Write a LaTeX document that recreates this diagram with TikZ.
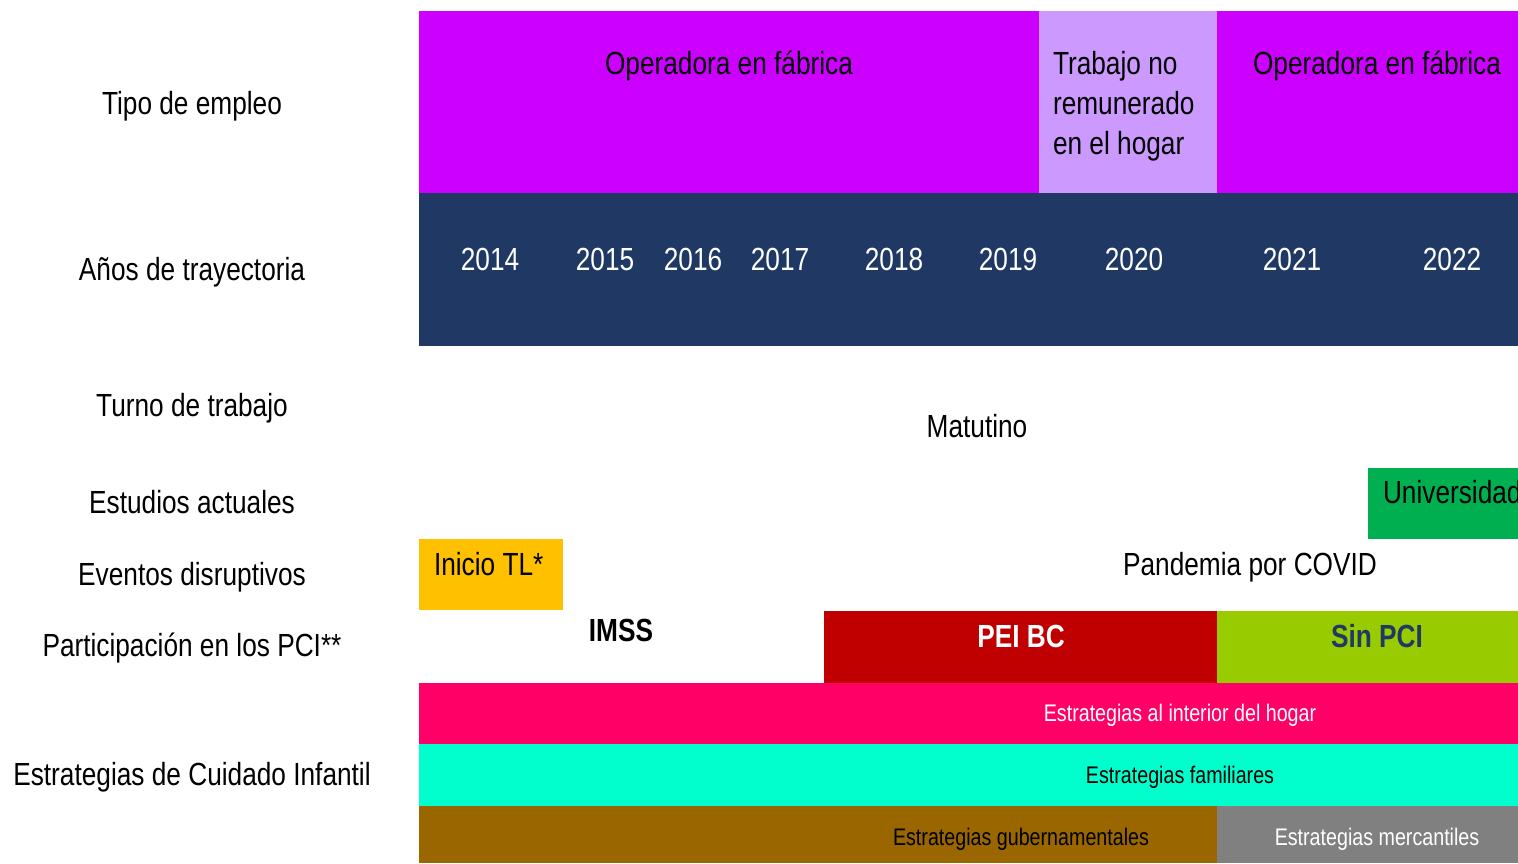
\documentclass[tikz,border=0pt]{standalone}
\usepackage{fontspec}
\setmainfont{Liberation Sans}[FakeStretch=0.82]
\usetikzlibrary{positioning}

\definecolor{magenta}{HTML}{CC00FF}
\definecolor{lila}{HTML}{CC99FF}
\definecolor{navy}{HTML}{203864}
\definecolor{verde}{HTML}{00B050}
\definecolor{naranja}{HTML}{FFC000}
\definecolor{rojo}{HTML}{C00000}
\definecolor{lima}{HTML}{99CC00}
\definecolor{rosa}{HTML}{FF0066}
\definecolor{aqua}{HTML}{00FFCC}
\definecolor{cafe}{HTML}{996600}
\definecolor{gris}{HTML}{808080}

\begin{document}
\begin{tikzpicture}[
    x=0.5pt, y=-0.5pt,
    every node/.style={font=\fontsize{16}{20}\selectfont, inner sep=0pt, outer sep=0pt},
    rowlabel/.style={anchor=base, align=center},
    barlabel/.style={anchor=base},
    small/.style={font=\fontsize{12}{14}\selectfont},
    strong/.style={font=\fontsize{16}{20}\selectfont\bfseries}
]
\useasboundingbox (0,0) rectangle (1518,863);

% Row titles
\node[rowlabel] (tipo) at (192,114) {Tipo de empleo};
\node[rowlabel] (anios) at (192,280) {Años de trayectoria};
\node[rowlabel] (turno) at (192,416) {Turno de trabajo};
\node[rowlabel] (estudios) at (192,513) {Estudios actuales};
\node[rowlabel] (eventos) at (192,585) {Eventos disruptivos};
\node[rowlabel] (pci) at (192,656) {Participación en los PCI**};
\node[rowlabel] (cuidado) at (192,785) {Estrategias de Cuidado Infantil};

% Type of job
\fill[magenta] (419,11) rectangle (1039,193);
\fill[lila] (1039,11) rectangle (1217,193);
\fill[magenta] (1217,11) rectangle (1518,193);
\node[barlabel] (fabricaA) at (729,74) {Operadora en fábrica};
\node[anchor=north west, align=left] (hogar) at (1053,51) {Trabajo no\\remunerado\\en el hogar};
\node[barlabel] (fabricaB) at (1377,74) {Operadora en fábrica};

% Years
\fill[navy] (419,193) rectangle (1518,346);
\foreach \yr/\xc in {2014/490, 2015/605, 2016/693, 2017/780, 2018/894,
                     2019/1008, 2020/1134, 2021/1292, 2022/1452}
  \node[barlabel, text=white] (y\yr) at (\xc,270) {\yr};

% Shift
\node[barlabel] (matutino) at (977,437) {Matutino};

% Studies
\fill[verde] (1368,468) rectangle (1518,539);
\node[anchor=base west] (uni) at (1383,503) {Universidad};

% Disruptive events
\fill[naranja] (419,539) rectangle (563,610);
\node[anchor=base west] (inicio) at (434,575) {Inicio TL*};
\node[barlabel] (covid) at (1250,575) {Pandemia por COVID};

% Programs
\node[barlabel, strong] (imss) at (621,641) {IMSS};
\fill[rojo] (824,611) rectangle (1217,683);
\fill[lima] (1217,611) rectangle (1518,683);
\node[barlabel, strong, text=white] (pei) at (1021,647) {PEI BC};
\node[barlabel, strong, text=navy] (sinpci) at (1377,647) {Sin PCI};

% Care strategies
\fill[rosa] (419,683) rectangle (1518,744);
\fill[aqua] (419,744) rectangle (1518,806);
\fill[cafe] (419,806) rectangle (1217,863);
\fill[gris] (1217,806) rectangle (1518,863);
\node[barlabel, small, text=white] (interior) at (1180,721) {Estrategias al interior del hogar};
\node[barlabel, small] (familiares) at (1180,783) {Estrategias familiares};
\node[barlabel, small] (gob) at (1021,845) {Estrategias gubernamentales};
\node[barlabel, small, text=white] (merc) at (1377,845) {Estrategias mercantiles};

\end{tikzpicture}
\end{document}
